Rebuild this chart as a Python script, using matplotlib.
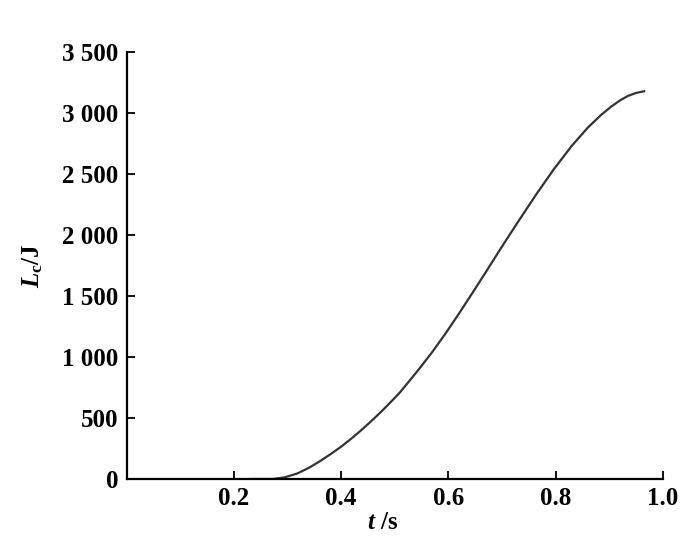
import matplotlib
matplotlib.use("Agg")
import matplotlib.pyplot as plt
from matplotlib.ticker import FuncFormatter

# 曲线读数 (t/s, Lc/J)
t_vals = [0.23, 0.273, 0.295, 0.318, 0.34, 0.36, 0.379, 0.40, 0.42, 0.436,
          0.455, 0.473, 0.49, 0.51, 0.527, 0.544, 0.57, 0.596, 0.622, 0.645,
          0.669, 0.70, 0.731, 0.765, 0.796, 0.83, 0.86, 0.885, 0.903, 0.92,
          0.935, 0.95, 0.965]
lc_vals = [0, 0, 14, 45, 92, 145, 200, 265, 335, 395,
           470, 545, 620, 712, 803, 895, 1042, 1202, 1372, 1527,
           1692, 1907, 2117, 2342, 2537, 2732, 2882, 2987, 3052, 3105,
           3142, 3166, 3180]

x_ticks = [0.2, 0.4, 0.6, 0.8, 1.0]
y_ticks = [0, 500, 1000, 1500, 2000, 2500, 3000, 3500]

plt.rcParams['font.family'] = ['Liberation Serif', 'DejaVu Serif']
plt.rcParams['font.weight'] = 'bold'
plt.rcParams['mathtext.fontset'] = 'custom'
plt.rcParams['mathtext.rm'] = 'Liberation Serif:bold'
plt.rcParams['mathtext.it'] = 'Liberation Serif:italic:bold'

fig = plt.figure(figsize=(7, 5.44), dpi=100)
ax = fig.add_axes([0.181, 0.1195, 0.766, 0.7845])

ax.plot(t_vals, lc_vals, color='#333333', lw=1.6)

ax.set_xlim(0, 1.0)
ax.set_ylim(0, 3500)
ax.set_xticks(x_ticks)
ax.set_yticks(y_ticks)


def fmt_y(v, pos):
    s = '{:,}'.format(int(v))
    return s.replace(',', ' ')


ax.yaxis.set_major_formatter(FuncFormatter(fmt_y))
ax.xaxis.set_major_formatter(FuncFormatter(lambda v, p: '{:.1f}'.format(v)))

for side in ['top', 'right']:
    ax.spines[side].set_visible(False)
for side in ['left', 'bottom']:
    ax.spines[side].set_linewidth(1.6)

ax.tick_params(direction='in', length=6, width=1.3, labelsize=18, pad=6)
for lab in ax.get_xticklabels() + ax.get_yticklabels():
    lab.set_fontweight('bold')

ax.set_xlabel(r'$t$ /s', fontsize=18, fontweight='bold', labelpad=2)
ax.xaxis.set_label_coords(0.478, -0.075)
ax.set_ylabel(r'$L_{\mathrm{c}}$/J', fontsize=18, fontweight='bold', labelpad=12)

fig.savefig('out.png', dpi=100)
